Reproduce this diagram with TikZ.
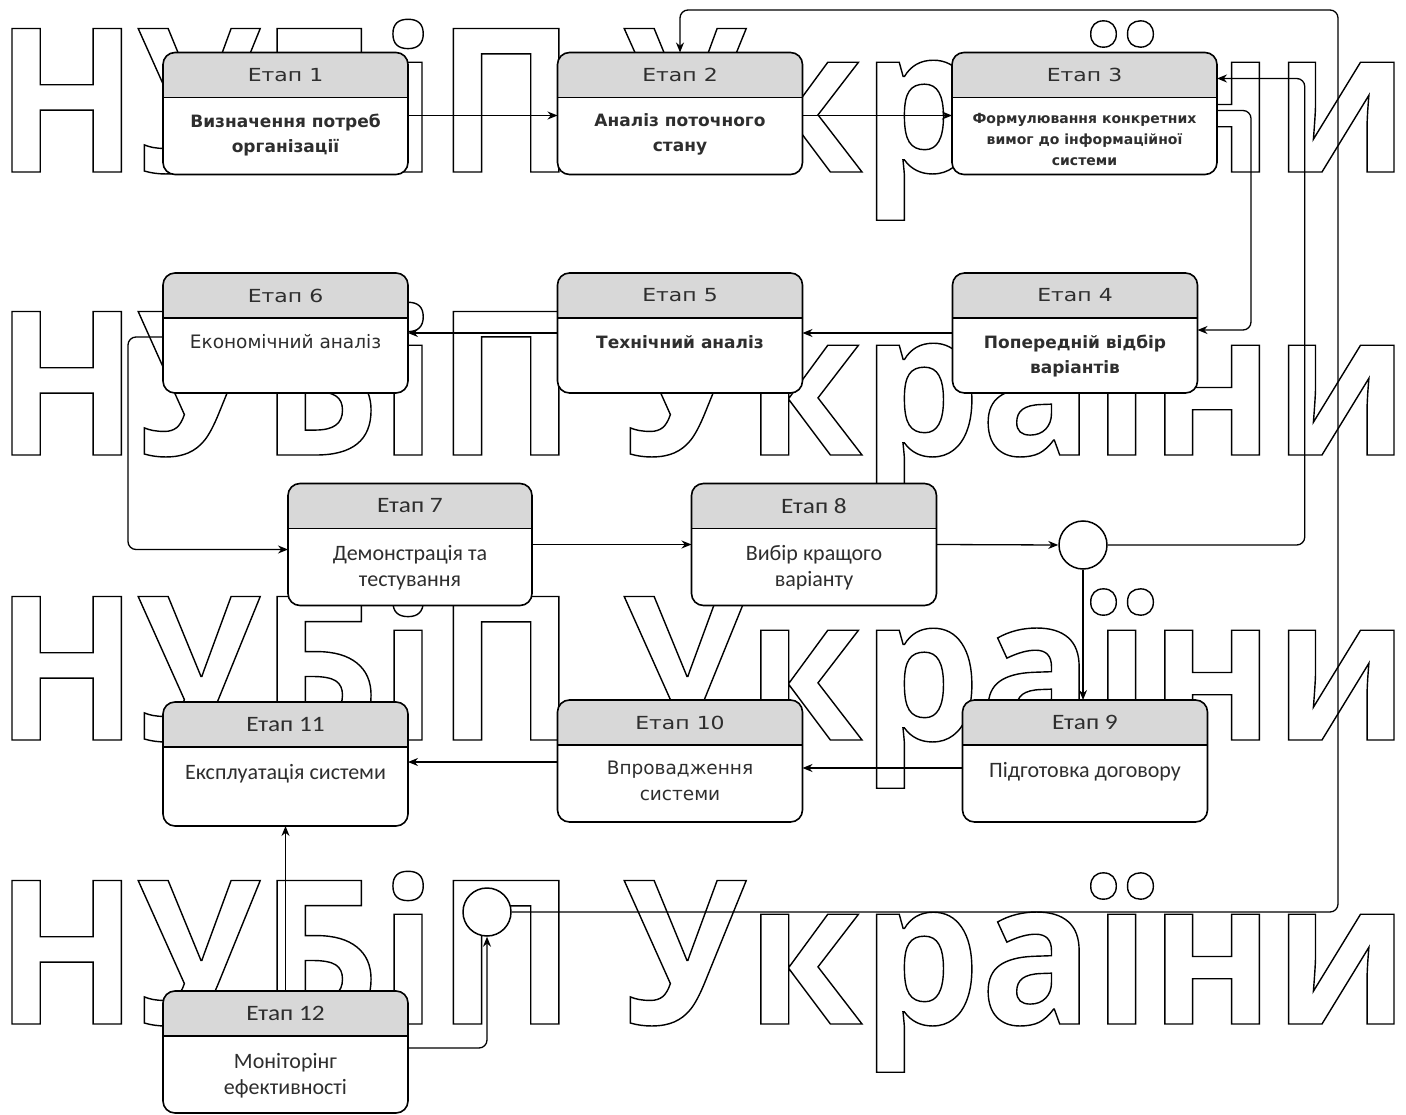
\documentclass[tikz,border=0pt]{standalone}
\usepackage{fontspec}
\usepackage{xcolor}
\usetikzlibrary{arrows.meta,positioning,backgrounds}

\newfontfamily\tahfont{DejaVu Sans}
\newfontfamily\tahhead[FakeStretch=1.22]{DejaVu Sans}
\newfontfamily\calfont{Carlito}
\newfontfamily\calhead[FakeStretch=1.15]{Carlito}
\newfontfamily\wmfont[FakeStretch=0.93]{Open Sans}

\definecolor{hdgray}{HTML}{D8D8D8}
\definecolor{ink}{HTML}{2E2E2E}

% outlined (stroked) glyphs for the watermark
\newcommand\outlinetext[1]{\special{pdf:literal direct 1 Tr 1.4 w}#1\special{pdf:literal direct 0 Tr}}

\begin{document}
\begin{tikzpicture}[
  x=1pt, y=-1pt,
  >={Stealth[length=10pt,width=8pt]},
  stage/.style={draw, line width=1.6pt, rounded corners=12pt, inner sep=0pt, outer sep=0pt,
               minimum width=245pt, minimum height=122pt},
  hdT/.style={anchor=center, yshift=-22.5pt, inner sep=0pt, text=ink,
              font=\tahhead\fontsize{18}{18}\selectfont},
  hdC/.style={hdT, font=\calhead\fontsize{22}{22}\selectfont},
  body/.style={anchor=north, inner sep=0pt, align=center, text=ink},
  bdT/.style={body, yshift=-61pt, font=\tahfont\bfseries\fontsize{17}{25}\selectfont},
  bdR/.style={body, yshift=-61pt, font=\tahfont\fontsize{18.5}{26}\selectfont},
  bdS/.style={body, yshift=-61pt, font=\tahfont\bfseries\fontsize{14}{21}\selectfont},
  bdC/.style={body, yshift=-62pt, font=\calfont\fontsize{22}{26}\selectfont},
  junc/.style={circle, draw, fill=white, line width=1.5pt, minimum size=48pt, inner sep=0pt},
  flow/.style={->, line width=1.3pt, rounded corners=8pt},
  wmark/.style={anchor=base west, inner sep=0pt,
                font=\wmfont\bfseries\fontsize{201}{201}\selectfont},
]
  \useasboundingbox (0,0) rectangle (1406,1115);

  % row 1
  \node[stage, label={[hdT]above:Етап 1},
        label={[bdT]above:{Визначення потреб\\організації}}] (s1) at (285.5,113.5) {};
  \node[stage, label={[hdT]above:Етап 2},
        label={[bdT]above:{Аналіз поточного\\стану}}] (s2) at (680,113.5) {};
  \node[stage, minimum width=265pt, label={[hdT]above:Етап 3},
        label={[bdS]above:{Формулювання конкретних\\вимог до інформаційної\\системи}}] (s3) at (1084.5,113.5) {};

  % row 2
  \node[stage, minimum height=120pt, label={[hdT]above:Етап 6},
        label={[bdR]above:Економічний аналіз}] (s6) at (285.5,333) {};
  \node[stage, minimum height=120pt, label={[hdT]above:Етап 5},
        label={[bdT, yshift=-1pt]above:Технічний аналіз}] (s5) at (680,333) {};
  \node[stage, minimum height=120pt, label={[hdT]above:Етап 4},
        label={[bdT, yshift=-1pt]above:{Попередній відбір\\варіантів}}] (s4) at (1075,333) {};

  % row 3
  \node[stage, minimum width=244pt, label={[hdC]above:Етап 7},
        label={[bdC]above:{Демонстрація та\\тестування}}] (s7) at (410,544.5) {};
  \node[stage, label={[hdC]above:Етап 8},
        label={[bdC]above:{Вибір кращого\\варіанту}}] (s8) at (814,544.5) {};
  \node[junc] (ja) at (1083,545) {};

  % row 4
  \node[stage, minimum height=124pt, label={[hdC]above:Етап 11},
        label={[bdC]above:Експлуатація системи}] (s11) at (285.5,764) {};
  \node[stage, label={[hdT]above:Етап 10},
        label={[bdR]above:{Впровадження\\системи}}] (s10) at (680,761) {};
  \node[stage, label={[hdC]above:Етап 9},
        label={[bdC]above:Підготовка договору}] (s9) at (1085,761) {};

  % monitoring
  \node[junc] (jb) at (487,912) {};
  \node[stage, label={[hdC]above:Етап 12},
        label={[bdC]above:{Моніторінг\\ефективності}}] (s12) at (285.5,1052) {};
  \coordinate (ctop) at (1338,10);

  % header bands, watermark
  \begin{scope}[on background layer]
    \fill[white] (0,0) rectangle (1406,1115);
    \foreach \r/\yb in {1/172,2/455,3/740,4/1024}
      \node[wmark] (wm\r) at (-5,\yb) {\outlinetext{НУБіП України}};
    \foreach \st in {s1,s2,s3,s4,s5,s6,s7,s8,s9,s10,s11,s12} {
      \fill[white, rounded corners=12pt] (\st.south west) rectangle (\st.north east);
      \begin{scope}
        \clip[rounded corners=12pt] (\st.south west) rectangle (\st.north east);
        \fill[hdgray] (\st.north west) rectangle ([yshift=-45pt]\st.north east);
      \end{scope}
    }
  \end{scope}
  \foreach \st in {s1,s2,s3,s4,s5,s6,s7,s8,s9,s10,s11,s12}
    \draw[line width=1.6pt] ([yshift=-45pt]\st.north west) -- ([yshift=-45pt]\st.north east);

  % row 1
  \draw[flow] ([yshift=-63pt]s1.north east) -- ([yshift=-63pt]s2.north west);
  \draw[flow] ([yshift=-63pt]s2.north east) -- ([yshift=-63pt]s3.north west);
  \draw[flow] ([yshift=-58pt]s3.north east) -- ++(34,0) |- ([yshift=-57pt]s4.north east);
  % row 2
  \draw[flow] ([yshift=-60pt]s4.north west) -- ([yshift=-60pt]s5.north east);
  \draw[flow] ([yshift=-60pt]s5.north west) -- ([yshift=-60pt]s6.north east);
  \draw[flow] ([yshift=-64pt]s6.north west) -- ++(-35,0) |- ([yshift=-66pt]s7.north west);
  % row 3
  \draw[flow] ([yshift=-61pt]s7.north east) -- ([yshift=-61pt]s8.north west);
  \draw[flow] ([yshift=-61pt]s8.north east) -- (ja.west);
  \draw[flow] (ja.south) -- (ja.south |- s9.north);
  \draw[flow] (ja.east) -- ++(197,0) |- ([yshift=-26pt]s3.north east);
  % row 4
  \draw[flow] ([yshift=-68pt]s9.north west) -- ([yshift=-68pt]s10.north east);
  \draw[flow] ([yshift=-62pt]s10.north west) -- ([yshift=-60pt]s11.north east);
  % monitoring loop
  \draw[flow] (s12.north) -- (s11.south);
  \draw[flow] ([yshift=-57pt]s12.north east) -| (jb.south);
  \draw[flow] (jb.east) -| (ctop) -| (s2.north);
\end{tikzpicture}
\end{document}
